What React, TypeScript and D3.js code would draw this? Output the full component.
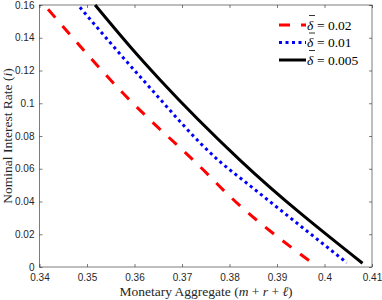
import * as d3 from "d3";
import { useEffect, useRef } from "react";

// tick values
const xTicks = [0.34, 0.35, 0.36, 0.37, 0.38, 0.39, 0.4, 0.41];
const yTicks = [0, 0.02, 0.04, 0.06, 0.08, 0.1, 0.12, 0.14, 0.16];

// delta = 0.02 (red dashed)
const redX = [0.3418, 0.3576, 0.3759, 0.378, 0.3975];
const redY = [0.1574, 0.1061, 0.0552, 0.049, 0.0023];

// delta = 0.01 (blue dotted)
const blueX = [0.3485, 0.3618, 0.378, 0.3836, 0.4047];
const blueY = [0.1586, 0.1142, 0.0643, 0.0513, 0.0026];

// delta = 0.005 (black solid)
const blackX = [0.3517, 0.3591, 0.3654, 0.3822, 0.408];
const blackY = [0.16, 0.1345, 0.1142, 0.0653, 0.0023];

const legendValues = ["0.02", "0.01", "0.005"];

function App() {
  const svgRef = useRef<SVGSVGElement | null>(null);

  useEffect(() => {
    const svg = d3.select(svgRef.current);
    svg.selectAll("*").remove();

    const xScale = d3.scaleLinear().domain([0.34, 0.41]).range([39.5, 372]);
    const yScale = d3.scaleLinear().domain([0, 0.16]).range([267, 5]);

    const axisColor = "#262626";
    const tickFont = '"Liberation Sans", Arial, sans-serif';
    const serif = '"Liberation Serif", "Times New Roman", serif';

    const fmt = (d: any) => String(+d);

    const gx = svg.append("g").attr("transform", "translate(0,267)")
      .call(d3.axisBottom(xScale).tickValues(xTicks).tickFormat(fmt).tickSizeInner(-3).tickSizeOuter(0).tickPadding(7));
    const gy = svg.append("g").attr("transform", "translate(39.5,0)")
      .call(d3.axisLeft(yScale).tickValues(yTicks).tickFormat(fmt).tickSizeInner(-3).tickSizeOuter(0).tickPadding(5));
    const gt = svg.append("g").attr("transform", "translate(0,5)")
      .call(d3.axisTop(xScale).tickValues(xTicks).tickFormat(() => "").tickSizeInner(-3).tickSizeOuter(0));
    const gr = svg.append("g").attr("transform", "translate(372,0)")
      .call(d3.axisRight(yScale).tickValues(yTicks).tickFormat(() => "").tickSizeInner(-3).tickSizeOuter(0));

    [gx, gy, gt, gr].forEach((g) => {
      g.select(".domain").remove();
      g.selectAll("line").attr("stroke", axisColor).attr("stroke-width", 0.6);
      g.selectAll("text").attr("fill", axisColor).style("font-family", tickFont).style("font-size", "10px");
    });

    svg.append("rect")
      .attr("x", 39.5).attr("y", 5)
      .attr("width", 372 - 39.5).attr("height", 262)
      .attr("fill", "none").attr("stroke", axisColor).attr("stroke-width", 0.6);

    const series = [
      { xs: redX, ys: redY, color: "#ff0000", dash: "11 11" },
      { xs: blueX, ys: blueY, color: "#0000ff", dash: "3 3.5" },
      { xs: blackX, ys: blackY, color: "#000000", dash: null },
    ];

    const line = d3.line<[number, number]>()
      .x((d) => xScale(d[0]))
      .y((d) => yScale(d[1]))
      .curve(d3.curveMonotoneX);

    series.forEach((s) => {
      const pts = s.xs.map((x, i) => [x, s.ys[i]] as [number, number]);
      svg.append("path")
        .attr("d", line(pts))
        .attr("fill", "none")
        .attr("stroke", s.color)
        .attr("stroke-width", 3)
        .attr("stroke-dasharray", s.dash);
    });

    // legend
    const legend = svg.append("g");
    legendValues.forEach((v, i) => {
      const y = 25 + i * 17.5;
      const s = series[i];
      legend.append("line")
        .attr("x1", 279).attr("x2", 306).attr("y1", y).attr("y2", y)
        .attr("stroke", s.color).attr("stroke-width", 3)
        .attr("stroke-dasharray", s.dash);
      legend.append("text")
        .attr("x", 307).attr("y", y + 4.5)
        .style("font-family", serif).style("font-size", "13.5px").style("font-style", "italic")
        .attr("fill", "#000").text("\u03b4");
      // bar over delta
      legend.append("line")
        .attr("x1", 309).attr("x2", 315).attr("y1", y - 9.5).attr("y2", y - 9.5)
        .attr("stroke", "#000").attr("stroke-width", 0.8);
      legend.append("text")
        .attr("x", 317).attr("y", y + 4.5)
        .style("font-family", serif).style("font-size", "13.5px")
        .attr("fill", "#000").text("= " + v);
    });

    // axis labels
    const xl = svg.append("text")
      .attr("x", 206).attr("y", 296)
      .attr("text-anchor", "middle")
      .style("font-family", serif).style("font-size", "13.5px").attr("fill", axisColor);
    xl.append("tspan").text("Monetary Aggregate (");
    xl.append("tspan").style("font-style", "italic").text("m");
    xl.append("tspan").text(" + ");
    xl.append("tspan").style("font-style", "italic").text("r");
    xl.append("tspan").text(" + ");
    xl.append("tspan").style("font-style", "italic").text("\u2113");
    xl.append("tspan").text(")");

    const yl = svg.append("text")
      .attr("transform", "translate(12,136) rotate(-90)")
      .attr("text-anchor", "middle")
      .style("font-family", serif).style("font-size", "13.5px").attr("fill", axisColor);
    yl.append("tspan").text("Nominal Interest Rate (");
    yl.append("tspan").style("font-style", "italic").text("i");
    yl.append("tspan").text(")");
  }, []);

  return (
    <svg ref={svgRef} width={382} height={300}
      style={{ position: "absolute", left: 0, top: 0, background: "#fff" }} />
  );
}

export default App;
